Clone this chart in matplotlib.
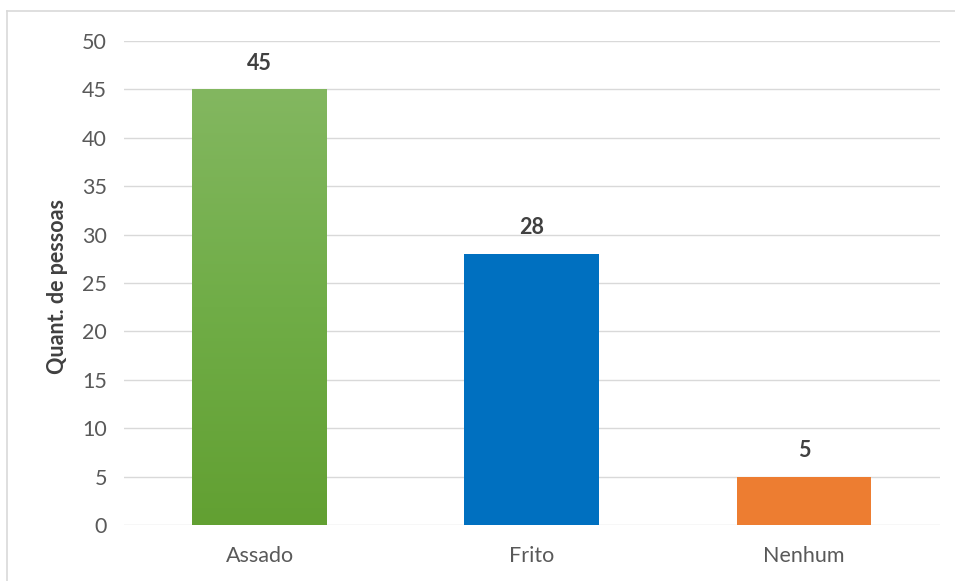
import matplotlib
matplotlib.use("Agg")
import matplotlib.pyplot as plt
import numpy as np
from matplotlib.colors import LinearSegmentedColormap
from matplotlib.patches import Rectangle

categories = ["Assado", "Frito", "Nenhum"]
values = [45, 28, 5]
yticks = [0, 5, 10, 15, 20, 25, 30, 35, 40, 45, 50]
ylabel = "Quant. de pessoas"

colors = ["#70ad47", "#0070c0", "#ed7d31"]

plt.rcParams['font.family'] = ['Lato', 'DejaVu Sans']

fig = plt.figure(figsize=(9.55, 5.81), dpi=100)
ax = fig.add_axes([123.5/955, 1-525/581, (940-123.5)/955, (525-41)/581])

x = np.arange(len(categories))
bars = ax.bar(x, values, width=0.495, color=colors, zorder=2)

# gradient on the first bar
grad_cmap = LinearSegmentedColormap.from_list("g", ["#62a032", "#70ad47", "#83b760"])
b0 = bars[0]
bx, by = b0.get_x(), b0.get_y()
bw, bh = b0.get_width(), b0.get_height()
grad = np.linspace(0, 1, 256).reshape(-1, 1)
im = ax.imshow(grad, cmap=grad_cmap, aspect="auto", origin="lower",
               extent=[bx, bx + bw, by, by + bh], zorder=2.5)
clip = Rectangle((bx, by), bw, bh, transform=ax.transData)
im.set_clip_path(clip)

ax.set_xlim(-0.5, len(categories) - 0.5)
ax.set_ylim(0, 50)
ax.set_yticks(yticks)
ax.set_xticks(x)
ax.set_xticklabels(categories)
ax.grid(axis="y", color="#d9d9d9", linewidth=1.0, zorder=0)
ax.set_axisbelow(True)
for s in ax.spines.values():
    s.set_visible(False)
ax.tick_params(axis="both", length=0, labelsize=15.5, colors="#595959")
ax.tick_params(axis="y", pad=12)
ax.tick_params(axis="x", pad=15)

for xi, v in zip(x, values):
    ax.text(xi, v + 1.6, str(v), ha="center", va="bottom", fontsize=15.5,
            fontweight="bold", color="#404040")

fig.text(57/955, 1-286/581, ylabel, rotation=90, ha="center", va="center",
         fontsize=15.5, fontweight="bold", color="#404040")

# outer chart-area border (top, left, right)
fig.add_artist(plt.Line2D([7/955, 7/955], [0, 1-11/581], transform=fig.transFigure,
                          color="#d9d9d9", linewidth=1.2))
fig.add_artist(plt.Line2D([7/955, 1.0], [1-11/581, 1-11/581], transform=fig.transFigure,
                          color="#d9d9d9", linewidth=1.2))

fig.savefig("out.png", dpi=100, facecolor="white")
